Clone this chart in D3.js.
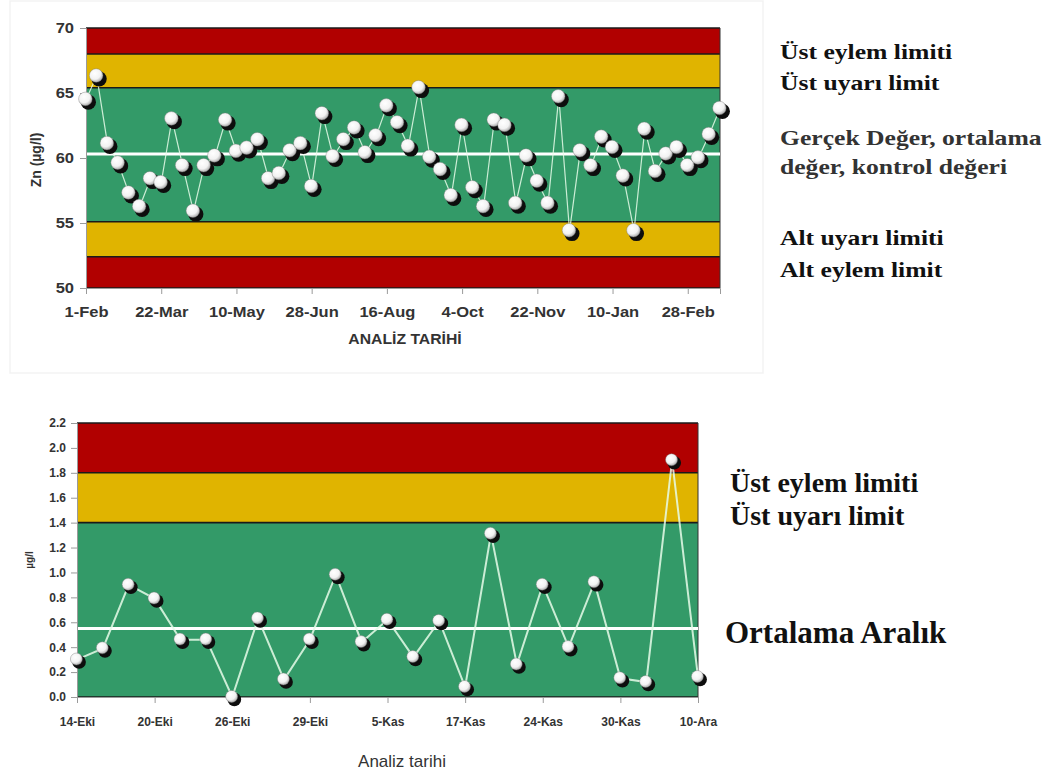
<!DOCTYPE html>
<html>
<head>
<meta charset="utf-8">
<script src="https://cdn.jsdelivr.net/npm/d3@7"></script>
<style>
  html, body { margin: 0; padding: 0; background: #fff; }
  svg { display: block; }
</style>
</head>
<body>
<svg id="chart" width="1047" height="776"></svg>
<script>
// ---------- DATA ----------
// Top chart: Zn (µg/l), weekly analyses
const zincValues = [64.5, 66.3, 61.1, 59.6, 57.3, 56.25, 58.4, 58.1, 63.0, 59.4,
  55.9, 59.4, 60.15, 62.9, 60.5, 60.75, 61.4, 58.4, 58.8, 60.55,
  61.1, 57.8, 63.4, 60.1, 61.4, 62.3, 60.4, 61.7, 64.0, 62.7,
  60.9, 65.4, 60.05, 59.1, 57.1, 62.5, 57.7, 56.25, 62.9, 62.5,
  56.5, 60.15, 58.2, 56.5, 64.7, 54.4, 60.55, 59.4, 61.6, 60.8,
  58.6, 54.4, 62.2, 58.95, 60.3, 60.8, 59.4, 60.0, 61.8, 63.8];
const zincTickLabels = ["1-Feb", "22-Mar", "10-May", "28-Jun", "16-Aug", "4-Oct", "22-Nov", "10-Jan", "28-Feb"];
const zincTickEvery = 7; // one label every 7 weekly samples
const zincYTicks = [50, 55, 60, 65, 70];
const zincBandLimits = [50, 52.4, 55.1, 65.4, 68, 70]; // alt eylem, alt uyarı, üst uyarı, üst eylem
const zincMean = 60.3;
const zincNotes = [
  ["Üst eylem limiti", "Üst uyarı limit"],
  ["Gerçek Değer, ortalama", "değer, kontrol değeri"],
  ["Alt uyarı limiti", "Alt eylem limit"]
];

// Bottom chart: range (µg/l)
const rangeValues = [0.30, 0.39, 0.90, 0.79, 0.46, 0.46, 0.00, 0.63, 0.14, 0.46,
  0.98, 0.44, 0.62, 0.32, 0.61, 0.08, 1.31, 0.26, 0.90, 0.40,
  0.92, 0.15, 0.12, 1.90, 0.16];
const rangeTickLabels = ["14-Eki", "20-Eki", "26-Eki", "29-Eki", "5-Kas", "17-Kas", "24-Kas", "30-Kas", "10-Ara"];
const rangeTickEvery = 3;
const rangeYTicks = [0, 0.2, 0.4, 0.6, 0.8, 1.0, 1.2, 1.4, 1.6, 1.8, 2.0, 2.2];
const rangeBandLimits = [0, 1.4, 1.8, 2.2];
const rangeMean = 0.55;
const rangeNotes = ["Üst eylem limiti", "Üst uyarı limit", "Ortalama Aralık"];

// ---------- DRAW ----------
const RED = "#b10000", YEL = "#e0b400", GRN = "#339a68";
const svg = d3.select("#chart");
const defs = svg.append("defs");
const grad = defs.append("radialGradient").attr("id", "ball").attr("cx", "40%").attr("cy", "35%").attr("r", "65%");
grad.append("stop").attr("offset", "0%").attr("stop-color", "#ffffff");
grad.append("stop").attr("offset", "65%").attr("stop-color", "#f2f2f2");
grad.append("stop").attr("offset", "100%").attr("stop-color", "#b0b0b0");

function stretch(sel, k) {
  sel.each(function () {
    const w = this.getComputedTextLength();
    this.setAttribute("textLength", w * k);
    this.setAttribute("lengthAdjust", "spacingAndGlyphs");
  });
}

function controlChart(cfg) {
  const g = svg.append("g");
  const x = d3.scaleLinear().domain([0, cfg.values.length - 1]).range([cfg.left, cfg.right]);
  const y = d3.scaleLinear().domain(d3.extent(cfg.bandLimits)).range([cfg.bottom, cfg.top]);

  // bands
  const bands = d3.pairs(cfg.bandLimits);
  g.selectAll("rect.band").data(bands).join("rect")
    .attr("x", cfg.left).attr("width", cfg.right - cfg.left)
    .attr("y", d => y(d[1])).attr("height", d => y(d[0]) - y(d[1]))
    .attr("fill", (d, i) => cfg.colors[i]);
  // band borders
  g.selectAll("line.bb").data(cfg.bandLimits).join("line")
    .attr("x1", cfg.left).attr("x2", cfg.right)
    .attr("y1", d => y(d)).attr("y2", d => y(d))
    .attr("stroke", "#1a1a1a").attr("stroke-width", 1.6);
  g.append("line").attr("x1", cfg.right).attr("x2", cfg.right)
    .attr("y1", cfg.top).attr("y2", cfg.bottom).attr("stroke", "#333").attr("stroke-width", 1);

  // mean line
  g.append("line").attr("x1", cfg.left).attr("x2", cfg.right)
    .attr("y1", y(cfg.mean)).attr("y2", y(cfg.mean))
    .attr("stroke", "#ffffff").attr("stroke-width", cfg.meanW);

  // axes
  const yAxis = d3.axisLeft(y).tickValues(cfg.yTicks).tickFormat(cfg.yFormat).tickSize(6).tickPadding(cfg.yPad);
  const ya = g.append("g").attr("transform", `translate(${cfg.left},0)`).call(yAxis);
  ya.select(".domain").attr("stroke", "#9a9a9a");
  ya.selectAll(".tick line").attr("stroke", "#9a9a9a");
  ya.selectAll("text").attr("font-family", "Liberation Sans, Arial, sans-serif").attr("font-weight", "bold")
    .attr("font-size", cfg.tickFont).attr("fill", "#333");
  stretch(ya.selectAll("text"), cfg.textStretch);

  const xTickVals = cfg.tickLabels.map((_, i) => i * cfg.tickEvery);
  const xAxis = d3.axisBottom(x).tickValues(xTickVals).tickFormat((d, i) => cfg.tickLabels[i]).tickSize(6).tickPadding(cfg.xPad);
  const xa = g.append("g").attr("transform", `translate(0,${cfg.bottom})`).call(xAxis);
  xa.select(".domain").attr("stroke", "#9a9a9a");
  xa.selectAll(".tick line").attr("stroke", "#9a9a9a");
  xa.selectAll("text").attr("font-family", "Liberation Sans, Arial, sans-serif").attr("font-weight", "bold")
    .attr("font-size", cfg.tickFont).attr("fill", "#333");
  stretch(xa.selectAll("text"), cfg.textStretch);

  // axis titles
  const xt = g.append("text").attr("x", cfg.xTitleX).attr("y", cfg.xTitleY).attr("text-anchor", "middle")
    .attr("font-family", "Liberation Sans, Arial, sans-serif").attr("font-weight", cfg.xTitleWeight)
    .attr("font-size", cfg.xTitleFont).attr("fill", "#333").text(cfg.xTitle);
  stretch(xt, cfg.titleStretch);
  g.append("text").attr("transform", `translate(${cfg.yTitleX},${cfg.yTitleY}) rotate(-90)`)
    .attr("text-anchor", "middle")
    .attr("font-family", "Liberation Sans, Arial, sans-serif").attr("font-weight", "bold")
    .attr("font-size", cfg.yTitleFont).attr("fill", "#333").text(cfg.yTitle);

  // connecting line
  const line = d3.line().x((d, i) => x(i)).y(d => y(d));
  g.append("path").datum(cfg.values).attr("d", line)
    .attr("fill", "none").attr("stroke", "#e6fbe9").attr("stroke-opacity", 0.85).attr("stroke-width", cfg.lineW);

  // points with shadow
  g.selectAll("circle.sh").data(cfg.values).join("circle")
    .attr("cx", (d, i) => x(i) + cfg.r * 0.35).attr("cy", d => y(d) + cfg.r * 0.4)
    .attr("r", cfg.r + 0.8).attr("fill", "#0d0d0d");
  g.selectAll("circle.pt").data(cfg.values).join("circle")
    .attr("cx", (d, i) => x(i) - 0.6).attr("cy", d => y(d) - 0.6)
    .attr("r", cfg.r).attr("fill", "url(#ball)").attr("stroke", "#777").attr("stroke-width", 0.4);
}

// top chart frame (very faint)
svg.append("rect").attr("x", 10).attr("y", 1).attr("width", 753).attr("height", 372)
  .attr("fill", "none").attr("stroke", "#f3f3f3").attr("stroke-width", 1.5);

controlChart({
  values: zincValues, bandLimits: zincBandLimits, mean: zincMean,
  colors: [RED, YEL, GRN, YEL, RED],
  left: 86, right: 720, top: 28, bottom: 288,
  yTicks: zincYTicks, yFormat: d3.format("d"),
  tickLabels: zincTickLabels, tickEvery: zincTickEvery,
  tickFont: 15, textStretch: 1.1, yPad: 6, xPad: 12,
  xTitle: "ANALİZ TARİHİ", xTitleX: 405, xTitleY: 344, xTitleFont: 15, xTitleWeight: "bold", titleStretch: 1.05,
  yTitle: "Zn (µg/l)", yTitleX: 41, yTitleY: 160, yTitleFont: 14,
  meanW: 3, lineW: 1.2, r: 6.8
});

controlChart({
  values: rangeValues, bandLimits: rangeBandLimits, mean: rangeMean,
  colors: [GRN, YEL, RED],
  left: 77, right: 698, top: 423, bottom: 697,
  yTicks: rangeYTicks, yFormat: d3.format(".1f"),
  tickLabels: rangeTickLabels, tickEvery: rangeTickEvery,
  tickFont: 12, textStretch: 1.0, yPad: 5, xPad: 14,
  xTitle: "Analiz tarihi", xTitleX: 402, xTitleY: 767, xTitleFont: 17, xTitleWeight: "normal", titleStretch: 1.0,
  yTitle: "µg/l", yTitleX: 33, yTitleY: 560, yTitleFont: 10,
  meanW: 3, lineW: 2, r: 6
});

// right-hand annotations, top chart
const topNoteY = [[59, 90], [145, 174], [245, 277]];
zincNotes.forEach((pair, gi) => {
  pair.forEach((t, li) => {
    const tx = svg.append("text").attr("x", 780).attr("y", topNoteY[gi][li])
      .attr("font-family", "Liberation Serif, 'Times New Roman', serif").attr("font-weight", "bold")
      .attr("font-size", 21).attr("fill", gi === 1 ? "#333" : "#111").text(t);
    stretch(tx, 1.22);
  });
});

// right-hand annotations, bottom chart
const botNotePos = [[730, 492, 28], [730, 525, 28], [725, 643, 31]];
rangeNotes.forEach((t, i) => {
  svg.append("text").attr("x", botNotePos[i][0]).attr("y", botNotePos[i][1])
    .attr("font-family", "Liberation Serif, 'Times New Roman', serif").attr("font-weight", "bold")
    .attr("font-size", botNotePos[i][2]).attr("fill", "#111").text(t);
});
</script>
</body>
</html>
